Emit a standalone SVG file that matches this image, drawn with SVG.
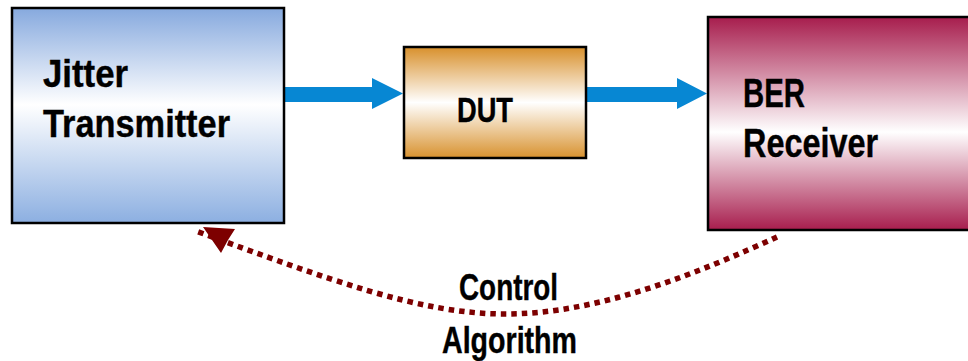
<svg xmlns="http://www.w3.org/2000/svg" width="968" height="361" viewBox="0 0 968 361">
  <defs>
    <linearGradient id="gradBlue" x1="0" y1="0" x2="0" y2="1">
      <stop offset="0" stop-color="#86a9de"/>
      <stop offset="0.45" stop-color="#ffffff"/>
      <stop offset="1" stop-color="#8cafe1"/>
    </linearGradient>
    <linearGradient id="gradOrange" x1="0" y1="0" x2="0" y2="1">
      <stop offset="0" stop-color="#d8902c"/>
      <stop offset="0.5" stop-color="#ffffff"/>
      <stop offset="1" stop-color="#d8922f"/>
    </linearGradient>
    <linearGradient id="gradCrimson" x1="0" y1="0" x2="0" y2="1">
      <stop offset="0" stop-color="#a71d4d"/>
      <stop offset="0.54" stop-color="#ffffff"/>
      <stop offset="1" stop-color="#a71d4d"/>
    </linearGradient>
  </defs>
  <style>
    .box { stroke: #000000; stroke-width: 2.5; }
    .label { font-family: "Liberation Sans", Arial, sans-serif; font-weight: bold; fill: #000000; stroke: #000000; stroke-width: 0.4; }
    .flow { fill: #0787d3; }
    .loop { fill: none; stroke: #7d0000; stroke-width: 5.5; stroke-dasharray: 5.5 5; }
    .loophead { fill: #7d0000; }
  </style>

  <!-- signal path and control loop -->
  <g id="connectors">
    <polygon class="flow" points="285,87 372,87 372,78 403,93.5 372,109 372,102 285,102"/>
    <polygon class="flow" points="587,87 677,87 677,78 707,93.5 677,109 677,102 587,102"/>
    <path class="loop" d="M777,237 C700,272 600,314 505,314 C420,314 330,280 196,231"/>
    <polygon class="loophead" points="203,227 235,229 228,240 221,253"/>
  </g>

  <g id="jitter-transmitter">
    <rect class="box" x="12" y="8" width="272" height="215" fill="url(#gradBlue)"/>
    <text class="label" x="43" y="87" font-size="39" textLength="85" lengthAdjust="spacingAndGlyphs">Jitter</text>
    <text class="label" x="43" y="137" font-size="39" textLength="187" lengthAdjust="spacingAndGlyphs">Transmitter</text>
  </g>

  <g id="dut">
    <rect class="box" x="404" y="47" width="182" height="111" fill="url(#gradOrange)"/>
    <text class="label" x="457" y="122" font-size="35" textLength="56" lengthAdjust="spacingAndGlyphs">DUT</text>
  </g>

  <g id="ber-receiver">
    <rect class="box" x="708" y="17" width="270" height="213" fill="url(#gradCrimson)"/>
    <text class="label" x="743" y="107" font-size="41" textLength="62" lengthAdjust="spacingAndGlyphs">BER</text>
    <text class="label" x="743" y="157" font-size="41" textLength="135" lengthAdjust="spacingAndGlyphs">Receiver</text>
  </g>

  <g id="control-algorithm">
    <text class="label" x="459" y="300" font-size="36" textLength="99" lengthAdjust="spacingAndGlyphs">Control</text>
    <text class="label" x="442" y="353" font-size="36" textLength="135" lengthAdjust="spacingAndGlyphs">Algorithm</text>
  </g>
</svg>
